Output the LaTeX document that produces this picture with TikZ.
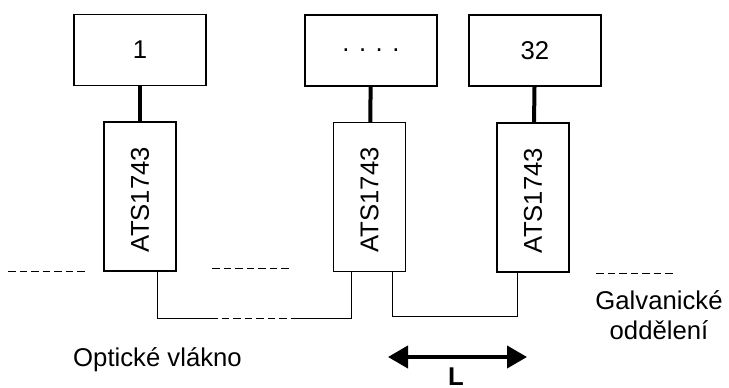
\documentclass[tikz,border=0pt]{standalone}
\usepackage{fontspec}
\setmainfont{Liberation Sans}
\usetikzlibrary{arrows.meta,calc}
\begin{document}
\begin{tikzpicture}[x=1pt,y=-1pt,
  every node/.style={font=\fontsize{25.7}{30}\selectfont, inner sep=0pt},
  unitbox/.style={draw, line width=1.3pt, minimum width=132pt, minimum height=71pt},
  atsbox/.style={draw, line width=1.3pt, minimum width=72pt, minimum height=149pt},
  feed/.style={line width=4pt},
  wire/.style={line width=1pt},
  gap/.style={line width=1pt, dash pattern=on 7.5pt off 4pt},
  span/.style={line width=4pt, {Triangle[length=20pt,width=22pt]}-{Triangle[length=20pt,width=22pt]}},
]
\useasboundingbox (0,0) rectangle (729,388);

% units on top
\node[unitbox] (b1) at (140,50) {1};
\node[unitbox] (b2) at (371,50.5) {. . . .};
\node[unitbox] (b3) at (535,50.5) {32};

% ATS1743 modules
\node[atsbox] (a1) at (140,196.5) {};
\node[atsbox] (a2) at (369.5,197) {};
\node[atsbox] (a3) at (533,197.5) {};
\node[rotate=90] (t1) at ($(a1)+(0,3)$) {ATS1743};
\node[rotate=90] (t2) at ($(a2)+(0,3)$) {ATS1743};
\node[rotate=90] (t3) at ($(a3)+(0,3)$) {ATS1743};

% unit to module feeds
\draw[feed] (b1) -- (a1);
\draw[feed] (b2) -- (a2);
\draw[feed] (b3) -- (a3);

% fibre loops
\coordinate (c1) at (157,318);
\coordinate (d1) at (210,318);
\coordinate (d2) at (292,318);
\coordinate (c2) at (351,318);
\coordinate (c3) at (392,316);
\coordinate (c4) at (517,316);
\draw[wire] (a1.south -| c1) -- (c1) -- (d1);
\draw[gap] (d1) -- (d2);
\draw[wire] (d2) -- (c2) -- (a2.south -| c2);
\draw[wire] (a2.south -| c3) -- (c3) -- (c4) -- (a3.south -| c4);

% isolation marks
\coordinate (g1a) at (8,271);
\coordinate (g1b) at (87,271);
\coordinate (g2a) at (212,268);
\coordinate (g2b) at (291,268);
\coordinate (g3a) at (596,273);
\coordinate (g3b) at (675,273);
\draw[gap] (g1a) -- (g1b);
\draw[gap] (g2a) -- (g2b);
\draw[gap] (g3a) -- (g3b);

% labels
\node (opt) at (157.5,360) {Optické vlákno};
\node[align=center] (galv) at (659,315) {Galvanické\\oddělení};

% distance L
\coordinate (La) at (388,357);
\coordinate (Lb) at (527,357);
\draw[span] (La) -- (Lb);
\node[anchor=base, font=\fontsize{25.7}{30}\selectfont\bfseries] (L) at (456,385.5) {L};
\end{tikzpicture}
\end{document}
